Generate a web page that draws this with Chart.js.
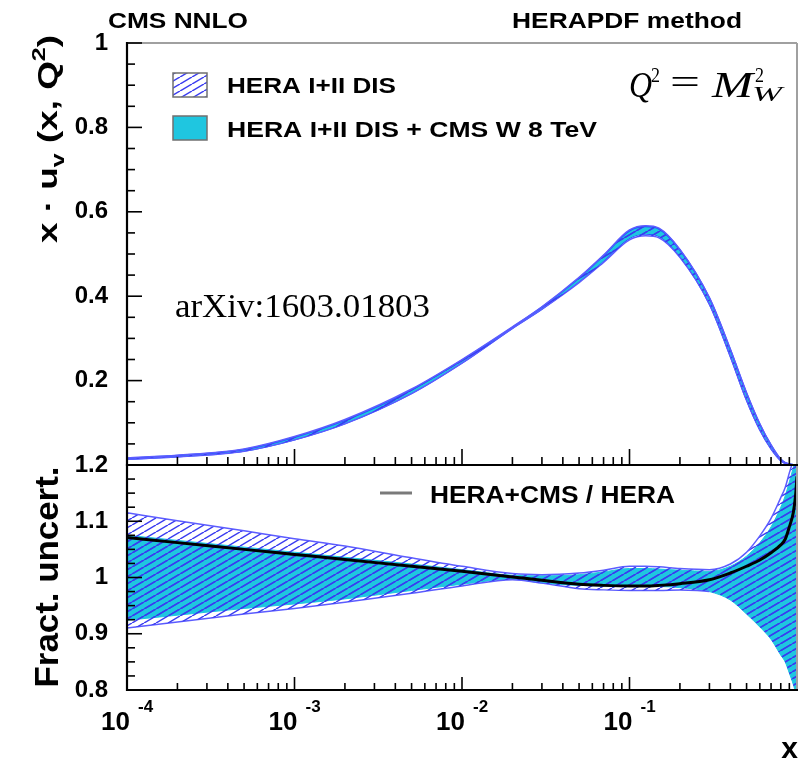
<!DOCTYPE html>
<html><head><meta charset="utf-8">
<script src="https://cdn.jsdelivr.net/npm/chart.js@4.4.1/dist/chart.umd.min.js"></script>
<style>
html,body{margin:0;padding:0;background:#fff;}
#wrap{position:relative;width:804px;height:764px;background:#fff;}
canvas{position:absolute;left:0;top:0;}
</style></head><body>
<div id="wrap">
<canvas id="top" width="804" height="764"></canvas>
<canvas id="bot" width="804" height="764"></canvas>
</div>
<script>
// ---------------- data ----------------
const xValues   = [1e-4, 2e-4, 5e-4, 1e-3, 2e-3, 5e-3, 1e-2, 2e-2, 3e-2, 5e-2, 7e-2, 0.1, 0.125, 0.15, 0.2, 0.3, 0.4, 0.5, 0.6, 0.7, 0.8, 0.85, 0.9, 0.95, 0.98, 1.0];
// x * u_v(x, Q^2 = M_W^2), HERA I+II DIS central value
const heraXuv   = [0.015, 0.021, 0.035, 0.063, 0.102, 0.174, 0.245, 0.325, 0.373, 0.441, 0.491, 0.546, 0.556, 0.551, 0.503, 0.391, 0.268, 0.164, 0.091, 0.043, 0.012, 0.005, 0.002, 0.0005, 0.0001, 0];
// fractional uncertainties, relative to HERA central
const ratioCmsOverHera = [1.071, 1.062, 1.050, 1.041, 1.032, 1.020, 1.011, 1.001, 0.995, 0.988, 0.986, 0.985, 0.985, 0.986, 0.989, 0.996, 1.008, 1.020, 1.031, 1.044, 1.058, 1.068, 1.090, 1.115, 1.145, 1.180];
const heraUncUp = [1.115, 1.101, 1.083, 1.069, 1.056, 1.035, 1.020, 1.007, 1.005, 1.008, 1.013, 1.020, 1.020, 1.019, 1.016, 1.014, 1.024, 1.045, 1.074, 1.105, 1.142, 1.160, 1.186, 1.210, 1.230, 1.250];
const heraUncDn = [0.910, 0.921, 0.935, 0.945, 0.956, 0.972, 0.985, 0.996, 0.990, 0.980, 0.978, 0.977, 0.977, 0.977, 0.978, 0.975, 0.960, 0.935, 0.912, 0.890, 0.862, 0.850, 0.830, 0.810, 0.795, 0.780];
const cmsUncUp  = [1.075, 1.066, 1.054, 1.045, 1.036, 1.024, 1.014, 1.004, 1.003, 1.005, 1.010, 1.016, 1.016, 1.015, 1.013, 1.011, 1.020, 1.038, 1.062, 1.090, 1.125, 1.145, 1.170, 1.195, 1.210, 1.220];
const cmsUncDn  = [0.924, 0.933, 0.945, 0.953, 0.962, 0.977, 0.988, 0.997, 0.990, 0.986, 0.985, 0.984, 0.984, 0.984, 0.982, 0.975, 0.960, 0.935, 0.912, 0.890, 0.862, 0.850, 0.830, 0.810, 0.795, 0.780];
const yTickStepTop = 0.2;
const yTickStepBottom = 0.1;
const xDecades = [1e-4, 1e-3, 1e-2, 1e-1];
const xDecadeExponents = ['-4', '-3', '-2', '-1'];
const legendTop = ['HERA I+II DIS', 'HERA I+II DIS + CMS W 8 TeV'];
const legendBottom = 'HERA+CMS / HERA';

// ---------------- styles ----------------
const LS = '"Liberation Sans", Arial, sans-serif';
const SERIF = '"Liberation Serif", "Times New Roman", serif';
const CYAN = '#1fc6e0';
const HATCH = '#3a3cf0';
const HERA_EDGE = '#5c5cff';
const CMS_EDGE = '#1f55ff';
Chart.defaults.font.family = LS;

function makePattern(targetCtx, bg, lineColor) {
  const w = 12, h = 7;
  const c = document.createElement('canvas'); c.width = w; c.height = h;
  const g = c.getContext('2d');
  if (bg) { g.fillStyle = bg; g.fillRect(0, 0, w, h); }
  g.strokeStyle = lineColor; g.lineWidth = 1.5;
  g.beginPath();
  for (const dx of [-w, 0, w]) { g.moveTo(dx, h); g.lineTo(dx + w, 0); }
  g.stroke();
  return targetCtx.createPattern(c, 'repeat');
}

const pts = (xs, ys) => xs.map((x, i) => ({x: x, y: ys[i]}));
const mul = (a, b) => a.map((v, i) => v * b[i]);

function line(ctx, x1, y1, x2, y2, c, w) {
  ctx.save(); ctx.strokeStyle = c; ctx.lineWidth = w; ctx.beginPath();
  ctx.moveTo(x1, y1); ctx.lineTo(x2, y2); ctx.stroke(); ctx.restore();
}
function fitText(ctx, s, x, y, font, w, color) {
  ctx.save(); ctx.font = font; const m = ctx.measureText(s).width;
  const sx = w ? w / m : 1;
  ctx.translate(x, y); ctx.scale(sx, 1);
  ctx.fillStyle = color || '#000'; ctx.textAlign = 'left'; ctx.textBaseline = 'alphabetic';
  ctx.fillText(s, 0, 0); ctx.restore();
}
function richWidth(ctx, parts) {
  let W = 0; for (const p of parts) { ctx.font = p.f; W += ctx.measureText(p.t).width; } return W;
}
function richDraw(ctx, parts, x0) {
  let x = x0;
  for (const p of parts) { ctx.font = p.f; ctx.fillText(p.t, x, p.dy || 0); x += ctx.measureText(p.t).width; }
}
function rotatedTitle(ctx, parts, baseX, centerY, length) {
  ctx.save(); ctx.fillStyle = '#000'; ctx.textBaseline = 'alphabetic'; ctx.textAlign = 'left';
  const W = richWidth(ctx, parts);
  ctx.translate(baseX, centerY); ctx.rotate(-Math.PI / 2); ctx.scale(length / W, 1);
  richDraw(ctx, parts, -W / 2);
  ctx.restore();
}

function yTicks(ctx, a, yScale, v0, step, n, majorEvery) {
  for (let k = 0; k <= n; k++) {
    const py = yScale.getPixelForValue(v0 + k * step);
    const L = (k % majorEvery === 0) ? 15 : 8;
    line(ctx, a.left, py, a.left + L, py, '#000', 1.6);
  }
}
function xTicks(ctx, a, xScale, yPix, major, minor) {
  for (let d = -4; d < 0; d++) for (let m = 1; m <= 9; m++) {
    const px = xScale.getPixelForValue(m * Math.pow(10, d));
    line(ctx, px, yPix, px, yPix - (m === 1 ? major : minor), '#000', 1.6);
  }
}

// ---------------- top panel ----------------
const topCtx = document.getElementById('top').getContext('2d');
const hatchTop = makePattern(topCtx, null, HATCH);
const cyanTop = makePattern(topCtx, CYAN, HATCH);

const topDecor = {
  id: 'topDecor',
  afterDraw(chart) {
    const {ctx, chartArea: a, scales: {x, y}} = chart;
    line(ctx, a.left, a.top, a.right, a.top, '#a0a0a0', 2);
    line(ctx, a.right, a.top, a.right, a.bottom, '#a0a0a0', 2);
    line(ctx, a.left, a.top - 1, a.left, a.bottom + 1, '#000', 2.2);
    line(ctx, a.left - 1, a.bottom, a.right + 1, a.bottom, '#000', 2.2);
    yTicks(ctx, a, y, 0, 0.05, 20, 4);
    xTicks(ctx, a, x, a.bottom, 16, 8);
    fitText(ctx, 'CMS NNLO', 108, 28, 'bold 22px ' + LS, 140);
    fitText(ctx, 'HERAPDF method', 512, 28, 'bold 22px ' + LS, 230);
    // legend
    ctx.save();
    ctx.fillStyle = '#fff'; ctx.fillRect(173, 73, 34, 24);
    ctx.fillStyle = hatchTop; ctx.fillRect(173, 73, 34, 24);
    ctx.strokeStyle = '#707070'; ctx.lineWidth = 1.5; ctx.strokeRect(173, 73, 34, 24);
    ctx.fillStyle = CYAN; ctx.fillRect(173, 116, 34, 24);
    ctx.strokeRect(173, 116, 34, 24);
    ctx.restore();
    fitText(ctx, legendTop[0], 227, 93, 'bold 22px ' + LS, 169);
    fitText(ctx, legendTop[1], 227, 136.5, 'bold 22px ' + LS, 370);
    // Q^2 = M_W^2
    fitText(ctx, 'Q', 629, 97, 'italic 36px ' + SERIF, 23);
    fitText(ctx, '2', 651, 82, '22px ' + SERIF, 9);
    fitText(ctx, '=', 670, 94, '36px ' + SERIF, 30);
    fitText(ctx, 'M', 712, 97, 'italic 36px ' + SERIF, 41);
    fitText(ctx, '2', 755, 82, '22px ' + SERIF, 9);
    fitText(ctx, 'W', 752, 101, 'italic 22px ' + SERIF, 30);
    fitText(ctx, 'arXiv:1603.01803', 175, 317, '33px ' + SERIF, 255);
    rotatedTitle(ctx, [
      {t: 'x \u00b7 u', f: 'bold 28px ' + LS},
      {t: 'v', f: 'bold 19px ' + LS, dy: 7},
      {t: ' (x, Q', f: 'bold 28px ' + LS},
      {t: '2', f: 'bold 19px ' + LS, dy: -12},
      {t: ')', f: 'bold 28px ' + LS}
    ], 57, 139, 208);
  }
};

new Chart(topCtx, {
  type: 'line',
  data: {
    datasets: [
      {label: 'HERA I+II DIS (up)', data: pts(xValues, mul(heraXuv, heraUncUp)), borderColor: HERA_EDGE, borderWidth: 1.5, backgroundColor: hatchTop, fill: '+1', order: 1},
      {label: 'HERA I+II DIS (down)', data: pts(xValues, mul(heraXuv, heraUncDn)), borderColor: HERA_EDGE, borderWidth: 1.5, fill: false, order: 1},
      {label: 'HERA+CMS (up)', data: pts(xValues, mul(heraXuv, cmsUncUp)), borderColor: CMS_EDGE, borderWidth: 1.5, backgroundColor: cyanTop, fill: '+1', order: 2},
      {label: 'HERA+CMS (down)', data: pts(xValues, mul(heraXuv, cmsUncDn)), borderColor: CMS_EDGE, borderWidth: 1.5, fill: false, order: 2}
    ]
  },
  options: {
    responsive: false, animation: false, devicePixelRatio: 1,
    layout: {padding: {top: 43, bottom: 299, left: 0, right: 7}},
    plugins: {legend: {display: false}, tooltip: {enabled: false}},
    elements: {point: {radius: 0}, line: {cubicInterpolationMode: 'monotone'}},
    scales: {
      x: {type: 'logarithmic', min: 1e-4, max: 1, display: false},
      y: {min: 0, max: 1,
          ticks: {stepSize: yTickStepTop, color: '#000', padding: 19, font: {size: 24, weight: 'bold'},
                  callback: v => (Math.abs(v) < 1e-9 ? '' : String(+v.toFixed(1)))},
          grid: {display: false, drawTicks: false}, border: {display: false},
          afterFit: s => { s.width = 127; }}
    }
  },
  plugins: [topDecor]
});

// ---------------- bottom panel ----------------
const botCtx = document.getElementById('bot').getContext('2d');
const hatchBot = makePattern(botCtx, null, HATCH);
const cyanBot = makePattern(botCtx, CYAN, HATCH);

const botDecor = {
  id: 'botDecor',
  afterDraw(chart) {
    const {ctx, chartArea: a, scales: {x, y}} = chart;
    line(ctx, a.right, a.top, a.right, a.bottom, '#a0a0a0', 2);
    line(ctx, a.left, a.top - 1, a.left, a.bottom + 1, '#000', 2.2);
    line(ctx, a.left - 1, a.bottom, a.right + 1, a.bottom, '#000', 2.2);
    line(ctx, a.left - 1, a.top, a.right + 1, a.top, '#000', 2.2);
    yTicks(ctx, a, y, 0.8, 0.025, 16, 4);
    xTicks(ctx, a, x, a.bottom, 13, 7);
    // x tick labels 10^n
    xDecades.forEach((v, i) => {
      const px = x.getPixelForValue(v);
      ctx.save(); ctx.fillStyle = '#000'; ctx.textBaseline = 'alphabetic';
      ctx.font = 'bold 26px ' + LS; ctx.textAlign = 'right'; ctx.fillText('10', px + 3, 730);
      ctx.font = 'bold 17px ' + LS; ctx.textAlign = 'left'; ctx.fillText(xDecadeExponents[i], px + 11, 712);
      ctx.restore();
    });
    ctx.save(); ctx.fillStyle = '#000'; ctx.font = 'bold 30px ' + LS; ctx.textAlign = 'right';
    ctx.fillText('x', 798, 758); ctx.restore();
    // legend
    line(ctx, 380, 493, 412, 493, '#7a7a7a', 3);
    fitText(ctx, legendBottom, 430, 503, 'bold 24px ' + LS, 245);
    rotatedTitle(ctx, [{t: 'Fract. uncert.', f: 'bold 33px ' + LS}], 58, 577, 221);
  }
};

new Chart(botCtx, {
  type: 'line',
  data: {
    datasets: [
      {label: 'HERA+CMS / HERA', data: pts(xValues, ratioCmsOverHera), borderColor: '#000', borderWidth: 3, fill: false, order: 0},
      {label: 'HERA I+II DIS (up)', data: pts(xValues, heraUncUp), borderColor: HERA_EDGE, borderWidth: 1.5, backgroundColor: hatchBot, fill: '+1', order: 1},
      {label: 'HERA I+II DIS (down)', data: pts(xValues, heraUncDn), borderColor: HERA_EDGE, borderWidth: 1.5, fill: false, order: 1,
       segment: {borderColor: c => (c.p0.parsed.x >= 0.3 ? 'rgba(0,0,0,0)' : HERA_EDGE)}},
      {label: 'HERA+CMS (up)', data: pts(xValues, cmsUncUp), borderColor: CYAN, borderWidth: 1, backgroundColor: cyanBot, fill: '+1', order: 2},
      {label: 'HERA+CMS (down)', data: pts(xValues, cmsUncDn), borderColor: CYAN, borderWidth: 1, fill: false, order: 2}
    ]
  },
  options: {
    responsive: false, animation: false, devicePixelRatio: 1,
    layout: {padding: {top: 465, bottom: 74, left: 0, right: 7}},
    plugins: {legend: {display: false}, tooltip: {enabled: false}},
    elements: {point: {radius: 0}, line: {cubicInterpolationMode: 'monotone'}},
    scales: {
      x: {type: 'logarithmic', min: 1e-4, max: 1, display: false},
      y: {min: 0.8, max: 1.2,
          ticks: {stepSize: yTickStepBottom, color: '#000', padding: 19, font: {size: 24, weight: 'bold'},
                  callback: v => String(+v.toFixed(1))},
          grid: {display: false, drawTicks: false}, border: {display: false},
          afterFit: s => { s.width = 127; }}
    }
  },
  plugins: [botDecor]
});
</script>
</body></html>
